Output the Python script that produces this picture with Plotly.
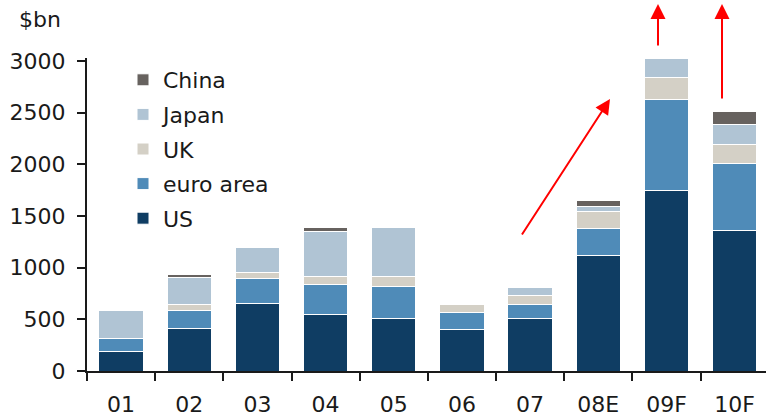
import plotly.graph_objects as go

categories = ["01", "02", "03", "04", "05", "06", "07", "08E", "09F", "10F"]
us = [185, 415, 658, 550, 512, 400, 510, 1120, 1745, 1360]
euro_area = [125, 170, 242, 290, 310, 165, 130, 255, 885, 645]
uk = [0, 55, 58, 75, 95, 75, 95, 165, 215, 185]
japan = [275, 270, 233, 440, 470, 0, 70, 55, 185, 200]
china = [0, 25, 0, 30, 0, 0, 0, 55, 0, 125]

series = [
    ("US", us, "#0f3d63", 5),
    ("euro area", euro_area, "#4f8bb8", 4),
    ("UK", uk, "#d4d0c6", 3),
    ("Japan", japan, "#b0c4d4", 2),
    ("China", china, "#67625f", 1),
]

FONT = "DejaVu Sans"
TXT = "#1a1a1a"

fig = go.Figure()
for name, vals, col, rank in series:
    fig.add_trace(go.Bar(
        x=categories, y=vals, name=name, legendgroup=name, legendrank=rank,
        marker=dict(color=col, line=dict(color="white", width=1)),
        width=0.65,
    ))

W, H = 766, 418
L, R, T, B = 87, 0, 58, 47
pw, ph = W - L - R, H - T - B

def px(x):
    return (x - L) / pw

def py(y):
    return (H - B - y) / ph

arrows = [
    ((610, 99), (521, 236)),
    ((658, 4), (658, 47)),
    ((722, 4), (722, 100)),
]
annotations = []
for (hx, hy), (tx, ty) in arrows:
    annotations.append(dict(
        x=px(hx), y=py(hy), xref="paper", yref="paper",
        ax=tx - hx, ay=ty - hy, axref="pixel", ayref="pixel",
        text="", showarrow=True, arrowhead=2, arrowsize=1.5,
        arrowwidth=2, arrowcolor="#ff0000", standoff=0,
    ))
annotations.append(dict(
    x=px(17), y=py(20), xref="paper", yref="paper", text="$bn", showarrow=False,
    xanchor="left", yanchor="middle",
    font=dict(family=FONT, size=22, color=TXT),
))

fig.update_layout(
    width=W, height=H,
    margin=dict(l=L, r=R, t=T, b=B, pad=0, autoexpand=False),
    barmode="stack",
    plot_bgcolor="white", paper_bgcolor="white",
    font=dict(family=FONT, size=22, color=TXT),
    showlegend=True,
    legend=dict(
        x=px(123), y=py(59), xanchor="left", yanchor="top",
        traceorder="grouped", tracegroupgap=3,
        font=dict(family=FONT, size=22, color=TXT),
        bgcolor="rgba(0,0,0,0)",
    ),
    annotations=annotations,
)
fig.update_xaxes(
    range=[-0.5, 9.46], showline=True, linecolor="#1a1a1a", linewidth=2,
    ticks="outside", ticklen=8, tickwidth=2, tickcolor="#1a1a1a",
    tickson="boundaries", ticklabelstandoff=13, showgrid=False, automargin=False,
)
fig.update_yaxes(
    range=[0, 3030], tickvals=[0, 500, 1000, 1500, 2000, 2500, 3000],
    showline=True, linecolor="#1a1a1a", linewidth=2,
    ticks="outside", ticklen=8, tickwidth=2, tickcolor="#1a1a1a",
    showgrid=False, zeroline=False, ticklabelstandoff=7, automargin=False,
)

fig.write_html(
    "out.html",
    config={"displayModeBar": False},
    post_script="document.body.style.margin='0';document.body.style.overflow='hidden';",
)
